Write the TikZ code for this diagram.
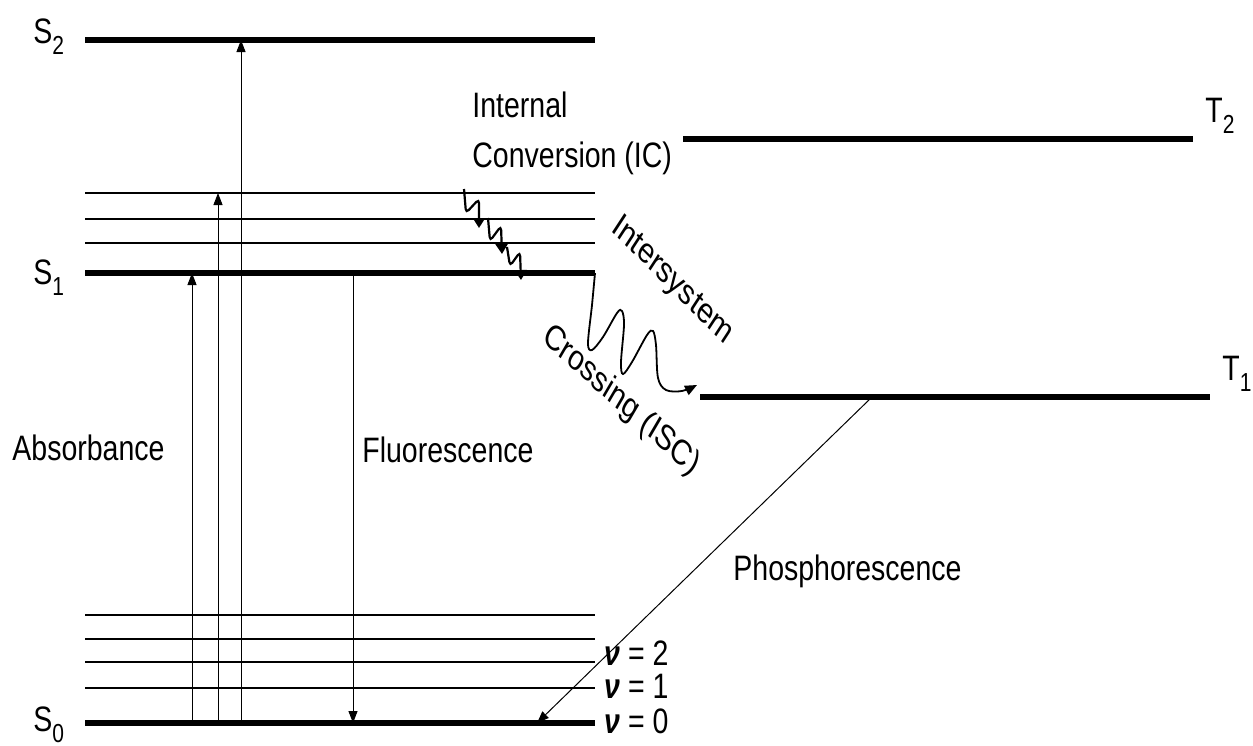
\documentclass[tikz,border=0pt]{standalone}
\usepackage{fontspec}
\setmainfont{Liberation Sans}
\usetikzlibrary{arrows.meta}
\newcommand{\vs}[1]{\scalebox{1}[1.24]{#1}}
\newcommand{\vsrot}[2]{\scalebox{1}[1.24]{\rotatebox{#1}{#2}}}
\newcommand{\sub}[1]{\raisebox{-0.32em}{\fontsize{10.5}{12}\selectfont #1}}
\newcommand{\nuv}{\textbf{\textit{ν}}}
\begin{document}
\begin{tikzpicture}[x=0.5pt,y=-0.5pt,
  lvl/.style={line width=3.3pt},
  vib/.style={line width=1pt},
  trans/.style={line width=0.5pt,-{Triangle[length=6pt,width=4.5pt]}},
  wav/.style={line width=1.1pt,rounded corners=2pt,-{Triangle[length=5pt,width=6pt]}},
  lbl/.style={font=\fontsize{14.25}{16}\selectfont, inner sep=0pt}]
\useasboundingbox (0,0) rectangle (1253,745);

% levels
\coordinate (S2l) at (85,40);   \coordinate (S2r) at (595,40);
\coordinate (S1l) at (85,273);  \coordinate (S1r) at (595,273);
\coordinate (S0l) at (85,723);  \coordinate (S0r) at (595,723);
\coordinate (T2l) at (683,139); \coordinate (T2r) at (1193,139);
\coordinate (T1l) at (700,397); \coordinate (T1r) at (1210,397);
\draw[lvl] (S2l) -- (S2r);
\draw[lvl] (S1l) -- (S1r);
\draw[lvl] (S0l) -- (S0r);
\draw[lvl] (T2l) -- (T2r);
\draw[lvl] (T1l) -- (T1r);
\foreach \y in {193,219,243,615,639,662,688}
  \draw[vib] (85,\y) -- (595,\y);

% level labels
\node[lbl,anchor=base west] (lS2) at (33,43) {\vs{S\sub{2}}};
\node[lbl,anchor=base west] (lS1) at (33,284) {\vs{S\sub{1}}};
\node[lbl,anchor=base west] (lS0) at (33,731) {\vs{S\sub{0}}};
\node[lbl,anchor=base west] (lT2) at (1205,122) {\vs{T\sub{2}}};
\node[lbl,anchor=base west] (lT1) at (1222,380) {\vs{T\sub{1}}};
\node[lbl,anchor=base west] (v2) at (604,665) {\vs{\nuv{} = 2}};
\node[lbl,anchor=base west] (v1) at (604,698) {\vs{\nuv{} = 1}};
\node[lbl,anchor=base west] (v0) at (604,733) {\vs{\nuv{} = 0}};

% transitions
\coordinate (a1b) at (192,723); \coordinate (a1t) at (192,273);
\coordinate (a2b) at (218,723); \coordinate (a2t) at (218,193);
\coordinate (a3b) at (241,723); \coordinate (a3t) at (241,40);
\coordinate (fl1) at (353,273); \coordinate (fl0) at (353,723);
\coordinate (ph1) at (872,397); \coordinate (ph0) at (537,723);
\draw[trans] (a1b) -- (a1t);
\draw[trans] (a2b) -- (a2t);
\draw[trans] (a3b) -- (a3t);
\draw[trans] (fl1) -- (fl0);
\draw[trans] (ph1) -- (ph0);

% internal conversion squiggles
\draw[wav] (464,189) -- (466,213) -- (479,199) -- (479,228);
\draw[wav] (488,218) -- (490,241) -- (501,226) -- (502,254);
\draw[wav] (507,247) -- (510,266) -- (520,252) -- (521,280);

% intersystem crossing squiggle
\draw[line width=0.9pt,-{Triangle[length=6pt,width=5pt]}] plot[smooth,tension=0.55] coordinates {
 (595,273) (592,305) (588,343) (592,350) (603,337) (617,313) (622,311) (624,325) (621,362) (623,374) (632,362) (647,335) (653,331) (656,345) (658,378) (666,390) (682,391) (697,385)};

% text labels
\node[lbl,anchor=base west] (tIC1) at (472,117) {\vs{Internal}};
\node[lbl,anchor=base west] (tIC2) at (472,167) {\vs{Conversion (IC)}};
\node[lbl,anchor=base west] (tAbs) at (12,460) {\vs{Absorbance}};
\node[lbl,anchor=base west] (tFl) at (362,462) {\vs{Fluorescence}};
\node[lbl,anchor=base west] (tPh) at (733,580) {\vs{Phosphorescence}};
\node[lbl] (tISC1) at (672,281) {\vsrot{-39}{Intersystem}};
\node[lbl] (tISC2) at (621,401) {\vsrot{-36}{Crossing (ISC)}};
\end{tikzpicture}
\end{document}
